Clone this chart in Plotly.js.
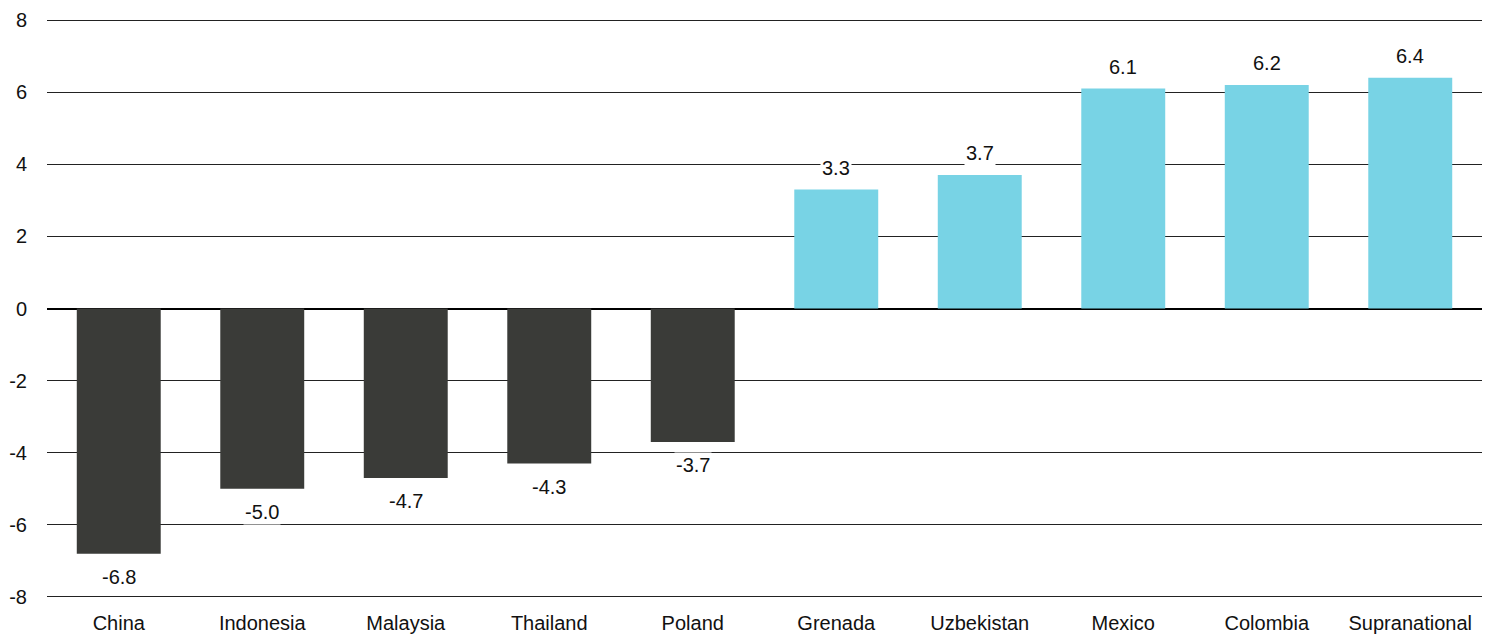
<!DOCTYPE html>
<html>
<head>
<meta charset="utf-8">
<script src="https://cdn.plot.ly/plotly-3.0.1.min.js"></script>
<style>
  html, body { margin: 0; padding: 0; background: #fff; }
  #chart { width: 1494px; height: 634px; }
</style>
</head>
<body>
<div id="chart"></div>
<script>
const categories = ["China", "Indonesia", "Malaysia", "Thailand", "Poland", "Grenada", "Uzbekistan", "Mexico", "Colombia", "Supranational"];
const values = [-6.8, -5.0, -4.7, -4.3, -3.7, 3.3, 3.7, 6.1, 6.2, 6.4];
const yTicks = [-8, -6, -4, -2, 0, 2, 4, 6, 8];

const DARK = "#3a3b38";
const LIGHT = "#78d3e5";
const FONT = "Liberation Sans, Arial, sans-serif";

const trace = {
  type: "bar",
  x: categories,
  y: values,
  marker: { color: values.map(v => v < 0 ? DARK : LIGHT), line: { width: 0 } },
  hoverinfo: "x+y"
};

const annotations = values.map((v, i) => ({
  x: categories[i],
  y: v,
  xref: "x",
  yref: "y",
  text: v.toFixed(1),
  showarrow: false,
  yanchor: v < 0 ? "top" : "bottom",
  yshift: v < 0 ? -10 : 9,
  bgcolor: "#ffffff",
  borderpad: 1,
  font: { family: FONT, size: 20, color: "#111" }
}));

const layout = {
  width: 1494,
  height: 634,
  margin: { l: 47, r: 12, t: 19, b: 36 },
  paper_bgcolor: "#ffffff",
  plot_bgcolor: "#ffffff",
  showlegend: false,
  bargap: 0.415,
  font: { family: FONT, size: 20, color: "#111" },
  xaxis: {
    type: "category",
    showgrid: false,
    showline: false,
    zeroline: false,
    ticks: "",
    ticklabelstandoff: 11,
    tickfont: { family: FONT, size: 20, color: "#111" }
  },
  yaxis: {
    range: [-8.03, 8.03],
    tickvals: yTicks,
    ticktext: yTicks.map(String),
    showgrid: true,
    gridcolor: "#222",
    gridwidth: 1,
    zeroline: true,
    zerolinecolor: "#000",
    zerolinewidth: 2,
    showline: false,
    ticks: "",
    ticklabelstandoff: 19,
    tickfont: { family: FONT, size: 20, color: "#111" }
  },
  annotations: annotations
};

Plotly.newPlot("chart", [trace], layout, { displayModeBar: false, staticPlot: true });
</script>
</body>
</html>
